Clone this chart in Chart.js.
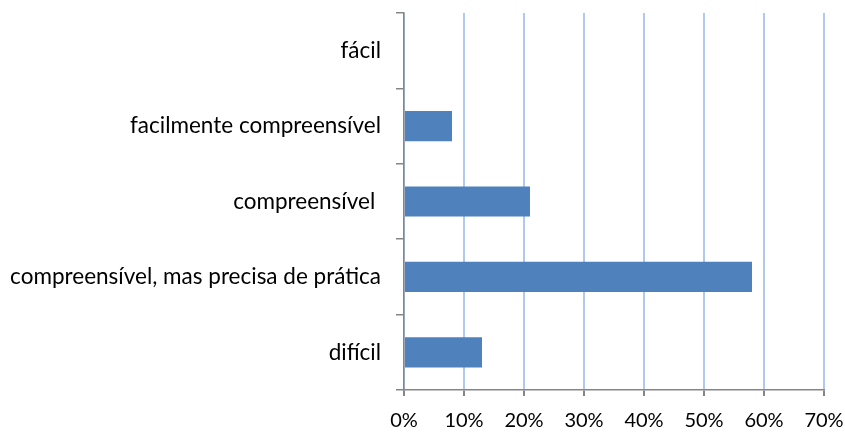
<!DOCTYPE html>
<html>
<head>
<meta charset="utf-8">
<script src="https://cdn.jsdelivr.net/npm/chart.js@4"></script>
<style>
  html, body { margin: 0; padding: 0; background: #fff; }
  #wrap { width: 845px; height: 432px; position: relative; }
</style>
</head>
<body>
<div id="wrap"><canvas id="respostasChart"></canvas></div>
<script>
const categorias = [
  "fácil",
  "facilmente compreensível",
  "compreensível ",
  "compreensível, mas precisa de prática",
  "difícil"
];
const percentagens = [0, 8, 21, 58, 13];
const xTicks = [0, 10, 20, 30, 40, 50, 60, 70];

const eixoCor = "#868686";
const familia = "Lato, 'Open Sans', sans-serif";

new Chart(document.getElementById("respostasChart"), {
  type: "bar",
  data: {
    labels: categorias,
    datasets: [{
      data: percentagens,
      backgroundColor: "#4f81bd",
      categoryPercentage: 1,
      barPercentage: 0.4
    }]
  },
  options: {
    indexAxis: "y",
    responsive: true,
    maintainAspectRatio: false,
    animation: false,
    layout: { padding: { top: 13, right: 21, left: 0, bottom: 0 } },
    plugins: { legend: { display: false }, tooltip: { enabled: false } },
    scales: {
      x: {
        min: 0,
        max: 70,
        afterBuildTicks: s => { s.ticks = xTicks.map(v => ({ value: v })); },
        afterFit: s => { s.height = 42; s.paddingLeft = 0; s.paddingRight = 0; },
        ticks: { color: "#000", font: { family: familia, size: 20 }, padding: 13, callback: v => v + "%" },
        grid: { color: "#b2c9ef", lineWidth: 2, tickColor: eixoCor, tickLength: 6 },
        border: { color: eixoCor, width: 1.5 }
      },
      y: {
        afterFit: s => { s.width = 404; s.paddingTop = 0; s.paddingBottom = 0; },
        ticks: { color: "#000", font: { family: familia, size: 22.5 }, padding: 15 },
        grid: { offset: true, drawOnChartArea: false, tickColor: eixoCor, tickLength: 8, lineWidth: 1.5 },
        border: { color: eixoCor, width: 1.5 }
      }
    }
  }
});
</script>
</body>
</html>
